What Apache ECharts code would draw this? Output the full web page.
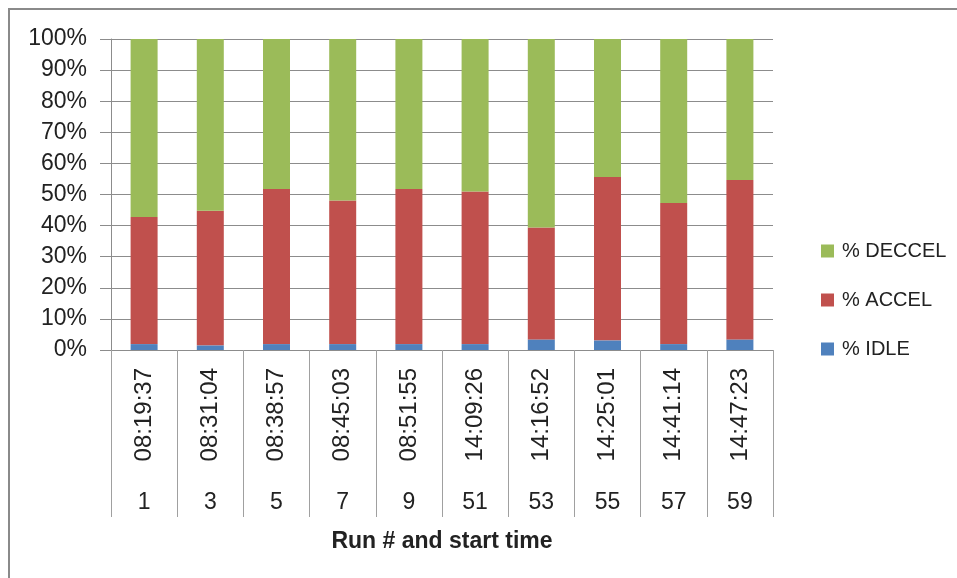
<!DOCTYPE html>
<html>
<head>
<meta charset="utf-8">
<script src="https://cdn.jsdelivr.net/npm/echarts@6/dist/echarts.min.js"></script>
<style>
  html, body { margin: 0; padding: 0; background: #fff; }
  #chart { width: 957px; height: 578px; }
  #frame {
    position: absolute; left: 8px; top: 8px; width: 1000px; height: 1000px;
    border: 2px solid #8a8a8a; pointer-events: none;
  }
</style>
</head>
<body>
<div id="chart"></div>
<div id="frame"></div>
<script>
// run numbers and start times (two-level category axis)
var runs = ['1', '3', '5', '7', '9', '51', '53', '55', '57', '59']
var startTimes = ['08:19:37', '08:31:04', '08:38:57', '08:45:03', '08:51:55',
  '14:09:26', '14:16:52', '14:25:01', '14:41:14', '14:47:23']

// shares in percent
var idle = [1.9, 1.5, 1.9, 1.9, 1.9, 1.9, 3.4, 3.1, 1.9, 3.4]
var accel = [40.9, 43.3, 49.9, 46.2, 49.9, 49.1, 36.0, 52.5, 45.4, 51.3]
var deccel = [57.2, 55.2, 48.2, 51.9, 48.2, 49.0, 60.6, 44.4, 52.7, 45.3]

var yTicks = [0, 10, 20, 30, 40, 50, 60, 70, 80, 90, 100]

var font = 'Liberation Sans, Arial, sans-serif'
var gray = '#8c8c8c'

var chart = echarts.init(document.getElementById('chart'))
chart.setOption({
  animation: false,
  textStyle: { fontFamily: font, color: '#222' },
  grid: { left: 111, right: 184, top: 39, bottom: 228 },
  legend: {
    orient: 'vertical',
    left: 816,
    top: 236,
    itemWidth: 13,
    itemHeight: 13,
    itemGap: 29,
    icon: 'rect',
    data: ['% DECCEL', '% ACCEL', '% IDLE'],
    textStyle: { fontFamily: font, fontSize: 20, color: '#222', padding: [0, 0, 0, 3] }
  },
  xAxis: [
    {
      type: 'category',
      data: startTimes,
      position: 'bottom',
      axisLine: { lineStyle: { color: gray, width: 1 } },
      axisTick: { show: true, interval: 0, length: 167, lineStyle: { color: '#a0a0a0' } },
      axisLabel: { rotate: 90, margin: 18, fontSize: 24, color: '#222', interval: 0, fontFamily: font }
    },
    {
      type: 'category',
      data: runs,
      position: 'bottom',
      axisLine: { show: false },
      axisTick: { show: false },
      axisLabel: { margin: 141, fontSize: 23, color: '#222', interval: 0, fontFamily: font },
      name: 'Run # and start time',
      nameLocation: 'middle',
      nameGap: 180,
      nameTextStyle: { fontSize: 23, fontWeight: 'bold', color: '#222', fontFamily: font }
    }
  ],
  yAxis: {
    type: 'value',
    min: yTicks[0],
    max: yTicks[yTicks.length - 1],
    interval: 10,
    axisLine: { show: true, lineStyle: { color: gray } },
    axisTick: { show: true, length: 11, inside: false, lineStyle: { color: gray } },
    splitLine: { lineStyle: { color: gray } },
    axisLabel: { formatter: '{value}%', margin: 24, fontSize: 23, color: '#222', fontFamily: font }
  },
  series: [
    {
      name: '% IDLE', type: 'bar', stack: 'total', barWidth: 27,
      itemStyle: { color: '#4F81BD' }, data: idle
    },
    {
      name: '% ACCEL', type: 'bar', stack: 'total', barWidth: 27,
      itemStyle: { color: '#C0504D' }, data: accel
    },
    {
      name: '% DECCEL', type: 'bar', stack: 'total', barWidth: 27,
      itemStyle: { color: '#9BBB59' }, data: deccel
    }
  ]
})
</script>
</body>
</html>
